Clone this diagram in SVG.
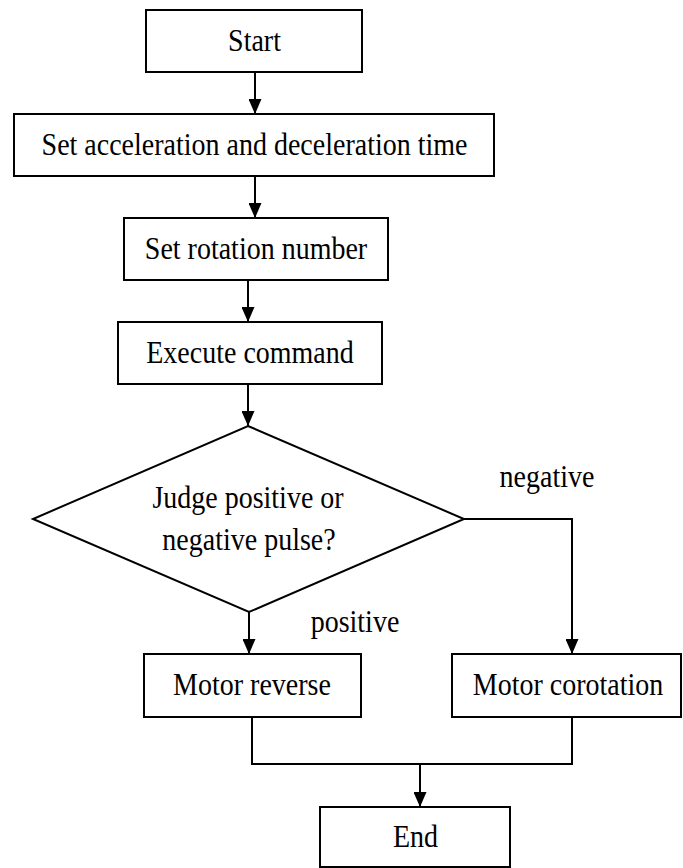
<svg xmlns="http://www.w3.org/2000/svg" width="683" height="868" viewBox="0 0 683 868">
<style>
.box{fill:#fff;stroke:#000;stroke-width:2}
.ln{fill:none;stroke:#000;stroke-width:2}
text{font-family:"Liberation Serif","Times New Roman",serif;font-size:28px;fill:#000;text-anchor:middle}
</style>
<defs>
<marker id="ah" viewBox="0 0 15 13" refX="15" refY="6.5" markerWidth="15" markerHeight="13" markerUnits="userSpaceOnUse" orient="auto">
<path d="M0,0 L15,6.5 L0,13 z" fill="#000"/>
</marker>
</defs>
<rect width="683" height="868" fill="#fff"/>
<g id="connectors">
<path class="ln" d="M255,72 V114" marker-end="url(#ah)"/>
<path class="ln" d="M255,176 V218" marker-end="url(#ah)"/>
<path class="ln" d="M248,280 V322" marker-end="url(#ah)"/>
<path class="ln" d="M248,384 V426" marker-end="url(#ah)"/>
<path class="ln" d="M249,612 V654" marker-end="url(#ah)"/>
<path class="ln" d="M464,519 H572 V654" marker-end="url(#ah)"/>
<path class="ln" d="M252,717 V764 H572 V717"/>
<path class="ln" d="M420,764 V807" marker-end="url(#ah)"/>
<text transform="translate(355,632) scale(1,1.1)">positive</text>
<text transform="translate(547,487) scale(1,1.1)">negative</text>
</g>
<g id="start">
<rect class="box" x="146" y="10" width="216" height="62"/>
<text transform="translate(254.5,51) scale(1,1.1)">Start</text>
</g>
<g id="set-accel">
<rect class="box" x="14" y="114" width="480" height="62"/>
<text transform="translate(254.5,155) scale(1,1.1)">Set acceleration and deceleration time</text>
</g>
<g id="set-rotation">
<rect class="box" x="124" y="218" width="264" height="62"/>
<text transform="translate(256,259) scale(1,1.1)">Set rotation number</text>
</g>
<g id="execute">
<rect class="box" x="118" y="322" width="264" height="62"/>
<text transform="translate(250,363) scale(1,1.1)">Execute command</text>
</g>
<g id="judge">
<polygon class="box" points="248,426 464,519 249,612 33,519"/>
<text transform="translate(248,508) scale(1,1.1)">Judge positive or</text>
<text transform="translate(249,550) scale(1,1.1)">negative pulse?</text>
</g>
<g id="motor-reverse">
<rect class="box" x="144" y="654" width="217" height="63"/>
<text transform="translate(252,695) scale(1,1.1)">Motor reverse</text>
</g>
<g id="motor-corotation">
<rect class="box" x="452" y="654" width="229" height="63"/>
<text transform="translate(568,695) scale(1,1.1)">Motor corotation</text>
</g>
<g id="end">
<rect class="box" x="320" y="807" width="190" height="60"/>
<text transform="translate(415.5,847) scale(1,1.1)">End</text>
</g>
</svg>
